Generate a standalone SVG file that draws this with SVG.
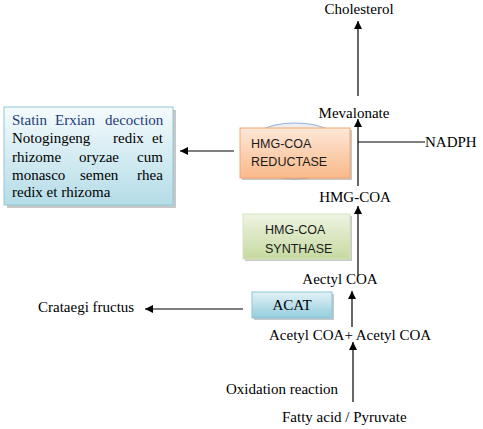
<svg xmlns="http://www.w3.org/2000/svg" width="483" height="429" viewBox="0 0 483 429">
<defs>
<style>
.t{font-family:"Liberation Serif","Times New Roman",serif;font-size:15px;fill:#000}
.s{font-family:"Liberation Sans",Arial,sans-serif;font-size:12.5px;fill:#1a1a1a}
.ln{stroke:#000;stroke-width:1.2;fill:none}
.sh{fill:#9a9a9a;opacity:0.55}
</style>
<marker id="ah" viewBox="0 0 10 10" refX="10" refY="5" markerWidth="8" markerHeight="8" markerUnits="userSpaceOnUse" orient="auto">
<path d="M0,0 L10,5 L0,10 z" fill="#000"/>
</marker>
<linearGradient id="gBlue" x1="0" y1="0" x2="0" y2="1">
<stop offset="0" stop-color="#f5fbfd"/><stop offset="1" stop-color="#b4dce7"/>
</linearGradient>
<linearGradient id="gOr" x1="0" y1="0" x2="0" y2="1">
<stop offset="0" stop-color="#fde8d8"/><stop offset="1" stop-color="#f9b98a"/>
</linearGradient>
<linearGradient id="gGr" x1="0" y1="0" x2="0" y2="1">
<stop offset="0" stop-color="#eff4e3"/><stop offset="1" stop-color="#c6d9a0"/>
</linearGradient>
<linearGradient id="gAc" x1="0" y1="0" x2="0" y2="1">
<stop offset="0" stop-color="#e3f2f7"/><stop offset="1" stop-color="#93cddd"/>
</linearGradient>
</defs>
<rect width="483" height="429" fill="#fff"/>

<g id="connectors">
<line class="ln" x1="358" y1="96" x2="358" y2="21" marker-end="url(#ah)"/>
<line class="ln" x1="358" y1="186" x2="358" y2="119" marker-end="url(#ah)"/>
<line class="ln" x1="358" y1="142" x2="425" y2="142"/>
<line class="ln" x1="234" y1="151" x2="180" y2="151" marker-end="url(#ah)"/>
<line class="ln" x1="358" y1="276" x2="358" y2="206" marker-end="url(#ah)"/>
<line class="ln" x1="352" y1="327" x2="352" y2="291" marker-end="url(#ah)"/>
<line class="ln" x1="243" y1="309" x2="145" y2="309" marker-end="url(#ah)"/>
<line class="ln" x1="353" y1="402" x2="353" y2="342" marker-end="url(#ah)"/>
</g>

<g id="statin">
<rect class="sh" x="7" y="110" width="169" height="98"/>
<rect x="4" y="107" width="169" height="98" fill="url(#gBlue)" stroke="#8ec8d8" stroke-width="1"/>
<text class="t" y="125" style="fill:#1f3c78"><tspan x="12">Statin</tspan><tspan x="55">Erxian</tspan><tspan x="105">decoction</tspan></text>
<text class="t" y="143"><tspan x="12">Notogingeng</tspan><tspan x="113">redix</tspan><tspan x="152">et</tspan></text>
<text class="t" y="162"><tspan x="12">rhizome</tspan><tspan x="79">oryzae</tspan><tspan x="137">cum</tspan></text>
<text class="t" y="180"><tspan x="12">monasco</tspan><tspan x="80">semen</tspan><tspan x="137">rhea</tspan></text>
<text class="t" x="12" y="197">redix et rhizoma</text>
</g>

<g id="reductase">
<ellipse cx="295" cy="151" rx="52" ry="28" fill="#e9eaee" stroke="#7f9fd0" stroke-width="1.2" opacity="0.8"/>
<rect class="sh" x="242" y="130" width="110" height="50"/>
<rect x="240" y="128" width="110" height="50" fill="url(#gOr)" stroke="#f5a56e" stroke-width="1"/>
<text class="s" x="251" y="148">HMG-COA</text>
<text class="s" x="251" y="166">REDUCTASE</text>
</g>

<g id="synthase">
<rect class="sh" x="245" y="216" width="107" height="45"/>
<rect x="243" y="214" width="107" height="45" fill="url(#gGr)" stroke="#d6e3bc" stroke-width="1"/>
<text class="s" x="265" y="234">HMG-COA</text>
<text class="s" x="265" y="253">SYNTHASE</text>
</g>

<g id="acat">
<rect class="sh" x="254" y="294" width="80" height="26"/>
<rect x="252" y="292" width="80" height="26" fill="url(#gAc)" stroke="#8ac6d6" stroke-width="1"/>
<text class="t" x="292" y="310" text-anchor="middle">ACAT</text>
</g>

<g id="cholesterol"><text class="t" x="359" y="14" text-anchor="middle">Cholesterol</text></g>
<g id="mevalonate"><text class="t" x="354" y="118" text-anchor="middle">Mevalonate</text></g>
<g id="nadph"><text class="t" x="425" y="147">NADPH</text></g>
<g id="hmgcoa"><text class="t" x="355" y="202" text-anchor="middle">HMG-COA</text></g>
<g id="aectyl"><text class="t" x="340" y="284" text-anchor="middle">Aectyl COA</text></g>
<g id="acetyl2"><text class="t" x="269" y="340">Acetyl COA+ Acetyl COA</text></g>
<g id="crataegi"><text class="t" x="38" y="312">Crataegi fructus</text></g>
<g id="oxidation"><text class="t" x="226" y="394">Oxidation reaction</text></g>
<g id="fatty"><text class="t" x="282" y="422">Fatty acid / Pyruvate</text></g>
</svg>
